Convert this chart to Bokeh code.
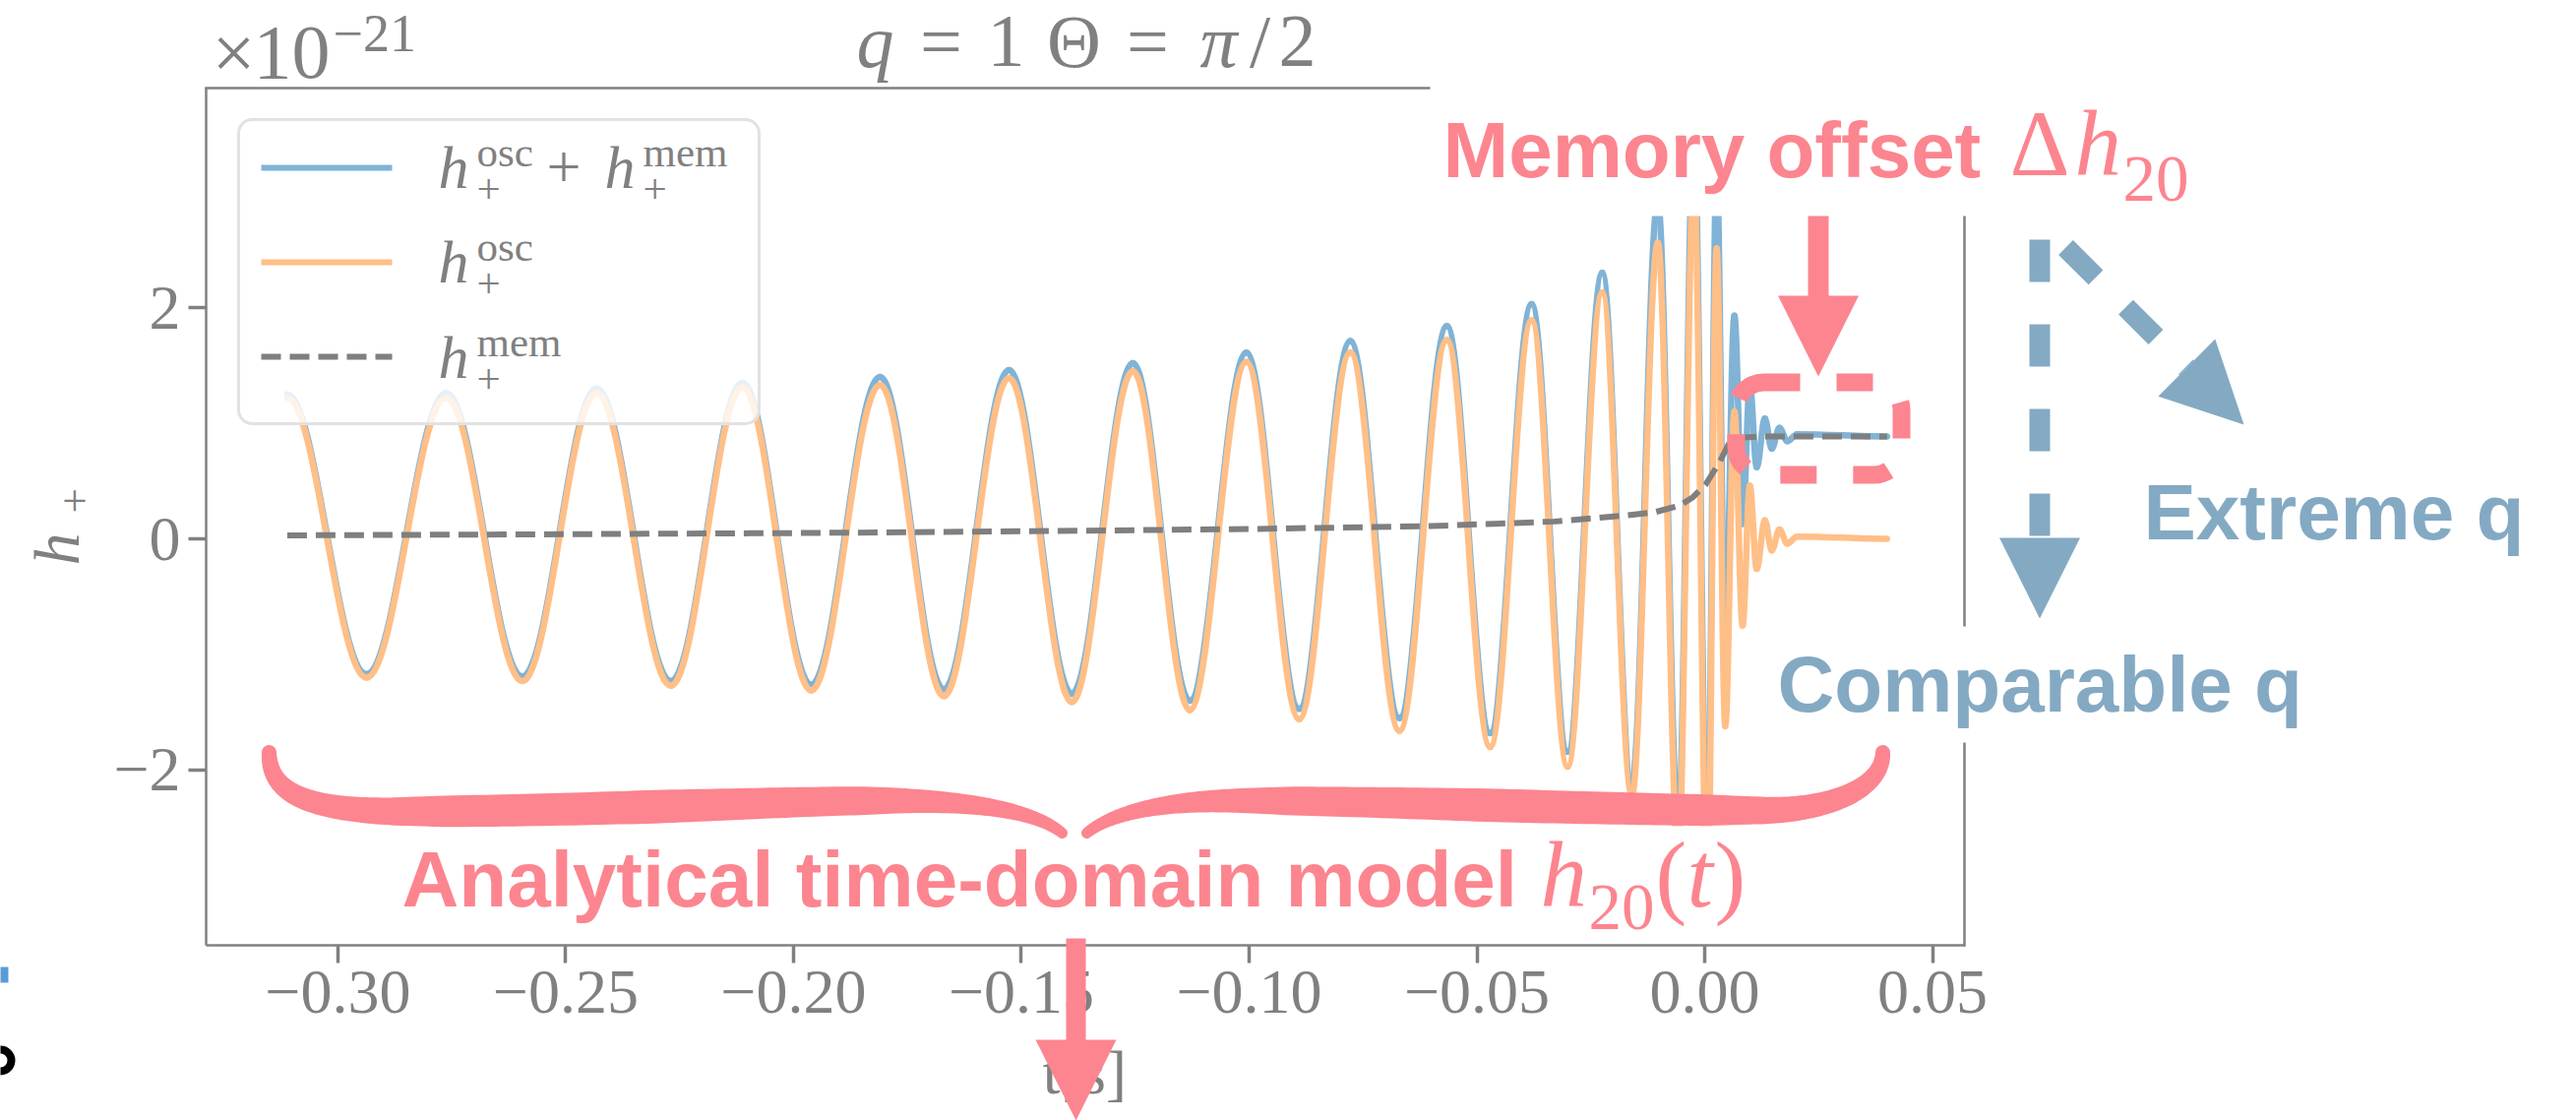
import numpy as np
from bokeh.plotting import figure
from bokeh.models import Range1d, FixedTicker, BoxAnnotation
from bokeh.core.properties import value
from bokeh.embed import file_html
from bokeh.resources import INLINE

# ------------------------------------------------------------------ data
# extrema of the waveforms (t in s, h in units of 1e-21)
t_extrema = [-0.3111, -0.2937, -0.2762, -0.2595, -0.2432, -0.2269, -0.2112, -0.1961,
             -0.1810, -0.1670, -0.1527, -0.1389, -0.1255, -0.1130, -0.1006, -0.0890,
             -0.0778, -0.0670, -0.0566, -0.0471, -0.0380, -0.0301, -0.0225, -0.0160,
             -0.0103, -0.0058, -0.0024, 0.0006, 0.0026, 0.0045, 0.0065, 0.0083,
             0.0099, 0.0114, 0.0132, 0.0147, 0.0164, 0.0181, 0.0203, 0.0400]
h_osc_extrema = [1.22, -1.20, 1.22, -1.23, 1.26, -1.27, 1.31, -1.31,
                 1.33, -1.36, 1.39, -1.41, 1.45, -1.48, 1.53, -1.56,
                 1.61, -1.66, 1.72, -1.80, 1.89, -1.97, 2.13, -2.22,
                 2.56, -2.75, 3.12, -3.18, 2.51, -1.62, 1.10, -0.75,
                 0.46, -0.26, 0.16, -0.10, 0.08, -0.04, 0.02, 0.00]
h_tot_extrema = [1.25, -1.17, 1.26, -1.19, 1.30, -1.23, 1.35, -1.26,
                 1.40, -1.30, 1.46, -1.34, 1.52, -1.40, 1.61, -1.47,
                 1.71, -1.55, 1.84, -1.68, 2.03, -1.84, 2.30, -2.11,
                 2.92, -2.47, 3.56, -2.71, 3.21, -0.84, 1.93, 0.13,
                 1.33, 0.62, 1.04, 0.78, 0.96, 0.845, 0.905, 0.885]
t_mem = [-0.3111, -0.25, -0.20, -0.15, -0.10, -0.06, -0.033, -0.018, -0.011,
         -0.0054, -0.0026, 0.0002, 0.0032, 0.0054, 0.0082, 0.0120, 0.0400]
h_mem = [0.03, 0.04, 0.05, 0.065, 0.085, 0.11, 0.15, 0.20, 0.23,
         0.29, 0.36, 0.47, 0.66, 0.83, 0.875, 0.885, 0.885]

x_ticks = [-0.30, -0.25, -0.20, -0.15, -0.10, -0.05, 0.00, 0.05]
x_tick_labels = ["\u22120.30", "\u22120.25", "\u22120.20", "\u22120.15",
                 "\u22120.10", "\u22120.05", "0.00", "0.05"]
y_ticks = [-2, 0, 2]
y_tick_labels = ["\u22122", "0", "2"]
x_limits = (-0.3289, 0.0570)
y_limits = (-3.515, 3.898)

# ------------------------------------------------------------------ style
W, H = 2618, 1138
FL, FR, FT, FB = 209, 1996, 89, 960          # plot frame on the page (px)
GRAY = "#808080"
BLUE = "#80B3D5"
ORANGE = "#FFBF87"
MEMGRAY = "#7F7F7F"
PINK = "#FC858F"
SLATE = "#84A9C3"
SERIF = "Liberation Serif"
SANS = "Liberation Sans"
BASELINE_FIX = 0.38   # em offset of the text glyph's alphabetic anchor


def X(px):
    return x_limits[0] + (np.asarray(px, float) - FL) / (FR - FL) * (x_limits[1] - x_limits[0])


def Y(py):
    return y_limits[1] - (np.asarray(py, float) - FT) / (FB - FT) * (y_limits[1] - y_limits[0])


p = figure(width=W, height=H, x_range=Range1d(*x_limits), y_range=Range1d(*y_limits),
           output_backend="svg", toolbar_location=None, title=None,
           min_border_left=FL, min_border_right=W - FR,
           min_border_top=FT, min_border_bottom=H - FB)
p.outline_line_color = None
p.grid.visible = False
p.background_fill_color = "white"
p.border_fill_color = "white"

p.xaxis.ticker = FixedTicker(ticks=x_ticks)
p.xaxis.major_label_overrides = dict(zip(x_ticks, x_tick_labels))
p.yaxis.ticker = FixedTicker(ticks=y_ticks)
p.yaxis.major_label_overrides = dict(zip(y_ticks, y_tick_labels))
for ax in (p.xaxis[0], p.yaxis[0]):
    ax.axis_line_color = GRAY
    ax.axis_line_width = 2.5
    ax.major_tick_line_color = GRAY
    ax.major_tick_line_width = 3.5
    ax.major_tick_out = 18
    ax.major_tick_in = 0
    ax.minor_tick_line_color = None
    ax.major_label_text_font = SERIF
    ax.major_label_text_font_size = "64px"
    ax.major_label_text_color = GRAY
    ax.major_label_standoff = 8


# ------------------------------------------------------------------ curves
def wave(t, h, color, width):
    t = np.asarray(t, float)
    h = np.asarray(h, float)
    d = np.diff(t)
    k = 1 - 2 / np.pi   # control-point spacing for a half-cosine shaped segment
    p.bezier(x0=t[:-1], y0=h[:-1], x1=t[1:], y1=h[1:],
             cx0=t[:-1] + k * d, cy0=h[:-1], cx1=t[1:] - k * d, cy1=h[1:],
             line_color=color, line_width=width, line_cap="round")


wave(t_extrema, h_tot_extrema, BLUE, 6.5)
wave(t_extrema, h_osc_extrema, ORANGE, 6.5)
p.line(t_mem, h_mem, line_color=MEMGRAY, line_width=6, line_dash="20 9")

# legend frame
p.add_layout(BoxAnnotation(left=float(X(242)), right=float(X(771)), top=float(Y(121)),
                           bottom=float(Y(430)), fill_color="white", fill_alpha=0.8,
                           line_color="#E2E2E2", line_alpha=1.0, line_width=3,
                           border_radius=14))
# dashed memory-offset box
p.add_layout(BoxAnnotation(left=float(X(1764)), right=float(X(1932)), top=float(Y(388)),
                           bottom=float(Y(482)), fill_alpha=0, line_color=PINK, line_alpha=1.0,
                           line_width=18, line_dash="37 37", border_radius=28))


def seg(x0, y0, x1, y1, color, w, dash="solid"):
    p.segment(x0=[float(X(x0))], y0=[float(Y(y0))], x1=[float(X(x1))], y1=[float(Y(y1))],
              line_color=color, line_width=w, line_dash=dash, line_cap="butt", level="overlay")


def box(l, t, r, b, color="white"):
    p.quad(left=[float(X(l))], right=[float(X(r))], top=[float(Y(t))], bottom=[float(Y(b))],
           fill_color=color, line_color=None, level="overlay")


def txt(px, py, s, size, color, font=SERIF, style="normal", align="left", angle=0.0):
    px = px - BASELINE_FIX * size * np.sin(angle)
    py = py - BASELINE_FIX * size * np.cos(angle)
    p.text(x=[float(X(px))], y=[float(Y(py))], text=[s], text_font=value(font),
           text_font_size=value(f"{size}px"), text_font_style=style, text_color=color,
           text_align=align, text_baseline="alphabetic", angle=angle, level="overlay")


def arrow(x0, y0, x1, y1, color, shaft, head=82, dash="solid"):
    v = np.array([x1 - x0, y1 - y0], float)
    u = v / np.hypot(*v)
    base = np.array([x1, y1], float) - u * head
    nrm = np.array([-u[1], u[0]])
    extra = 1 if dash == "solid" else 0
    seg(x0, y0, base[0] + u[0] * extra, base[1] + u[1] * extra, color, shaft, dash)
    tri = np.array([[x1, y1], base + nrm * head / 2, base - nrm * head / 2])
    p.patch(x=X(tri[:, 0]), y=Y(tri[:, 1]), fill_color=color, line_color=None, level="overlay")


# white covers and the remaining spines
box(1453, 0, W, 219)
box(273, 839, 1915, 957)
seg(FL - 1.25, FT, 1453, FT, GRAY, 2.5)
seg(FR, 219, FR, 636, GRAY, 2.5)
seg(FR, 754, FR, FB + 1.25, GRAY, 2.5)

# legend content
legend_y = [170, 266, 362]
for yy, col, dash in zip(legend_y, [BLUE, ORANGE, MEMGRAY], ["solid", "solid", "20 9"]):
    seg(265, yy, 398, yy, col, 6, dash)
txt(445, 193, "h", 62, GRAY, style="italic")
txt(484, 170, "osc", 43, GRAY)
txt(484, 208, "+", 43, GRAY)
txt(555, 193, "+", 62, GRAY)
txt(614, 193, "h", 62, GRAY, style="italic")
txt(653, 170, "mem", 43, GRAY)
txt(653, 208, "+", 43, GRAY)
txt(445, 289, "h", 62, GRAY, style="italic")
txt(484, 266, "osc", 43, GRAY)
txt(484, 304, "+", 43, GRAY)
txt(445, 386, "h", 62, GRAY, style="italic")
txt(484, 363, "mem", 43, GRAY)
txt(484, 401, "+", 43, GRAY)

# axis texts
txt(237, 83, "\u00d7", 78, GRAY, align="center")
txt(257, 83, "10", 78, GRAY)
txt(338, 54, "\u221221", 54, GRAY)
for cx, s, st in [(889, "q", "italic"), (956, "=", "normal"), (1022, "1", "normal"),
                  (1091, "\u0398", "normal"), (1166, "=", "normal"), (1238, "\u03c0", "italic"),
                  (1280, "/", "normal"), (1318, "2", "normal")]:
    txt(cx, 70, s, 76, GRAY, style=st, align="center")
txt(1102, 1113, "t[s]", 64, GRAY, align="center")
txt(82, 574, "h", 66, GRAY, style="italic", angle=np.pi / 2)
txt(93, 521, "+", 45, GRAY, angle=np.pi / 2)


# brace under the inspiral
def cubic(p0, p1, p2, p3, n=60):
    u = np.linspace(0, 1, n)[:, None]
    p0, p1, p2, p3 = (np.array(q, float) for q in (p0, p1, p2, p3))
    return (1 - u) ** 3 * p0 + 3 * (1 - u) ** 2 * u * p1 + 3 * (1 - u) * u ** 2 * p2 + u ** 3 * p3


def stroke(segs):
    path = np.vstack([s if i == 0 else s[1:] for i, s in enumerate(segs)])
    s = np.concatenate([[0], np.cumsum(np.hypot(*np.diff(path, axis=0).T))])
    s /= s[-1]
    w = np.interp(s, [0, 0.06, 0.25, 0.5, 0.75, 0.92, 1], [15, 21, 32, 34, 29, 17, 11])
    d = np.gradient(path, axis=0)
    d /= np.hypot(d[:, 0], d[:, 1])[:, None]
    nrm = np.column_stack([-d[:, 1], d[:, 0]])
    left = path + nrm * w[:, None] / 2
    right = path - nrm * w[:, None] / 2
    th = np.linspace(0, np.pi, 14)[:, None]
    cap_end = path[-1] + w[-1] / 2 * (np.cos(th) * nrm[-1] + np.sin(th) * d[-1])
    cap_start = path[0] + w[0] / 2 * (np.cos(th) * -nrm[0] + np.sin(th) * -d[0])
    poly = np.vstack([left, cap_end, right[::-1], cap_start])
    p.patch(x=X(poly[:, 0]), y=Y(poly[:, 1]), fill_color=PINK, line_color=None, level="overlay")


stroke([cubic((273, 764), (273, 805), (310, 822), (400, 824)),
        cubic((400, 824), (600, 824), (800, 813), (900, 813)),
        cubic((900, 813), (1000, 813), (1055, 826), (1079, 846))])
stroke([cubic((1913, 764), (1913, 800), (1860, 823), (1790, 823)),
        cubic((1790, 823), (1650, 823), (1400, 813), (1260, 813)),
        cubic((1260, 813), (1180, 813), (1128, 826), (1104, 846))])

# pink annotations
txt(1466, 182, "Memory offset", 80, PINK, font=SANS, style="bold")
txt(2042, 182, "\u0394", 95, PINK)
txt(2108, 182, "h", 95, PINK, style="italic")
txt(2157, 207, "20", 67, PINK)
arrow(1847.5, 219, 1847.5, 382, PINK, 21)

txt(408, 923, "Analytical time-domain model", 80, PINK, font=SANS, style="bold")
txt(1565, 925, "h", 95, PINK, style="italic")
txt(1614, 947, "20", 67, PINK)
txt(1682, 925, "(", 95, PINK)
txt(1714, 925, "t", 95, PINK, style="italic")
txt(1742, 925, ")", 95, PINK)
arrow(1093, 953, 1093, 1138, PINK, 20)

# blue annotations on the right
arrow(2072.5, 243, 2072.5, 628, SLATE, 21, dash="43 43")
arrow(2099, 251, 2280, 431, SLATE, 21, dash="43 43")
txt(2178, 550, "Extreme q", 80, SLATE, font=SANS, style="bold")
txt(1806, 725, "Comparable q", 80, SLATE, font=SANS, style="bold")

# cropped fragments at the left edge of the page
box(0, 982, 8, 998, "#5B9BD5")
p.arc(x=[float(X(0))], y=[float(Y(1077))], radius=11, radius_units="screen",
      start_angle=-np.pi / 2, end_angle=np.pi / 2, line_color="black", line_width=8,
      level="overlay")

open("out.html", "w").write(file_html(p, INLINE))
